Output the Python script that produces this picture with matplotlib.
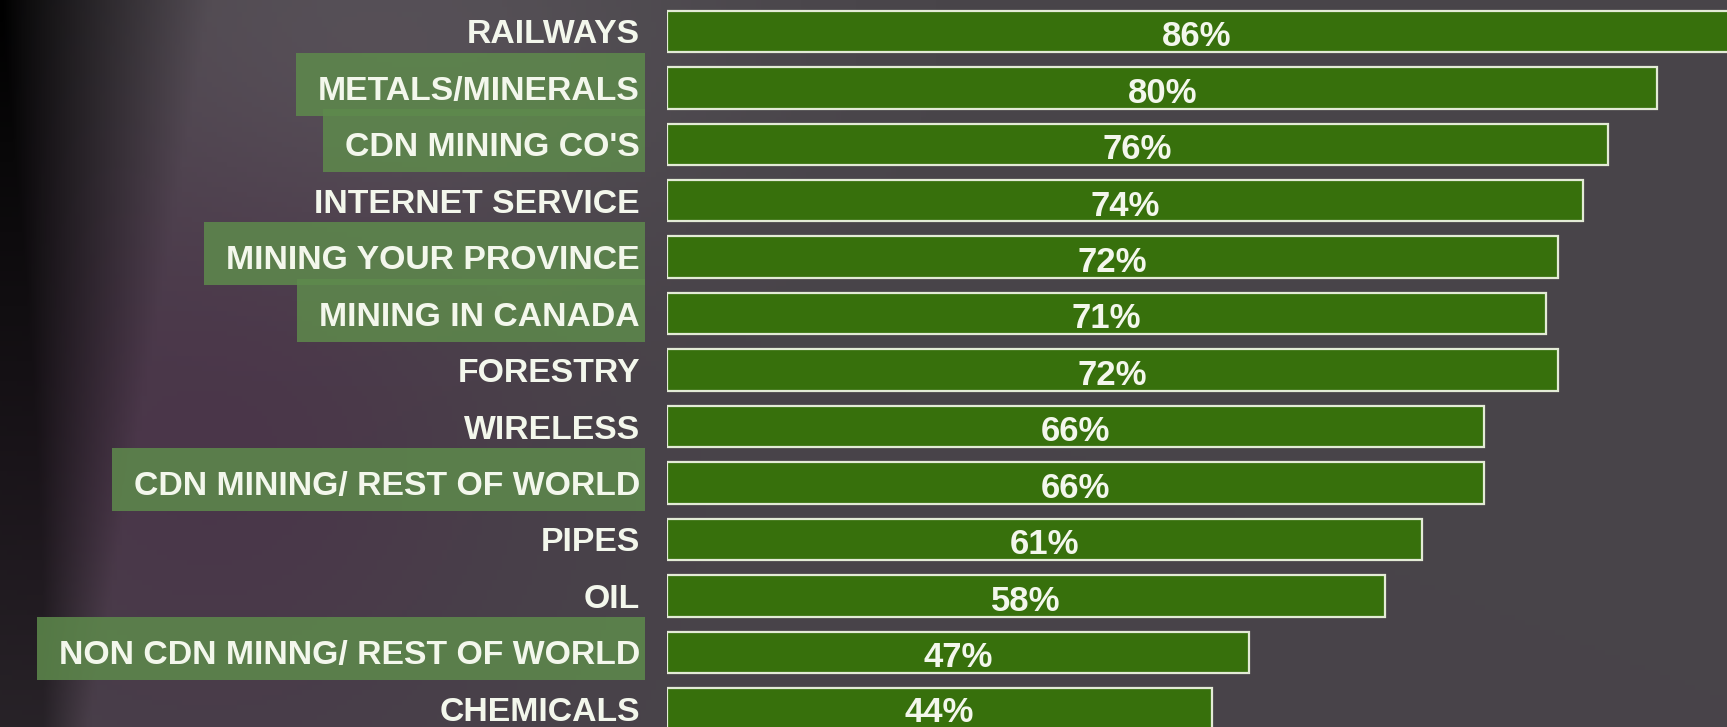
import numpy as np
import matplotlib
matplotlib.use("Agg")
import matplotlib.pyplot as plt
from matplotlib.patches import Rectangle
from matplotlib.transforms import IdentityTransform

# ---- data ----
categories = ["RAILWAYS", "METALS/MINERALS", "CDN MINING CO'S", "INTERNET SERVICE",
              "MINING YOUR PROVINCE", "MINING IN CANADA", "FORESTRY", "WIRELESS",
              "CDN MINING/ REST OF WORLD", "PIPES", "OIL",
              "NON CDN MINNG/ REST OF WORLD", "CHEMICALS"]
values = [86, 80, 76, 74, 72, 71, 72, 66, 66, 61, 58, 47, 44]
highlighted = [False, True, True, False, True, True, False, False, True,
               False, False, True, False]

W, H, DPI = 1727, 727, 100
fig = plt.figure(figsize=(W / DPI, H / DPI), dpi=DPI)

# ---- background (dark photographic tone) ----
bg_ax = fig.add_axes([0, 0, 1, 1], zorder=-5)
bg_ax.set_axis_off()
hh, ww = 146, 346
yy, xx = np.mgrid[0:hh, 0:ww]
xf = xx / (ww - 1)
yf = yy / (hh - 1)
base = np.zeros((hh, ww, 3))
base[..., 0] = 72
base[..., 1] = 68
base[..., 2] = 73
purple = np.exp(-(((xf - 0.12) / 0.18) ** 2 + ((yf - 0.6) / 0.45) ** 2))
base[..., 0] += 2 * purple
base[..., 1] -= 14 * purple
light = np.exp(-(((xf - 0.22) / 0.2) ** 2 + ((yf - 0.05) / 0.3) ** 2))
base += 14 * light[..., None]
vign = np.clip(xf / (0.03 + 0.07 * (1 - yf) + 0.02), 0, 1) ** 0.8
vign = np.maximum(vign, 0.55 * yf)
vign = np.clip(vign, 0, 1)
base *= vign[..., None]
bg_ax.imshow(np.clip(base, 0, 255).astype(np.uint8), aspect="auto",
             extent=[0, 1, 0, 1], interpolation="bilinear")
bg_ax.set_xlim(0, 1)
bg_ax.set_ylim(0, 1)

# ---- main chart ----
x_left_px = 667
ax = fig.add_axes([x_left_px / W, 0, 1 - x_left_px / W, 1], zorder=0)
ax.patch.set_visible(False)
y = np.arange(len(categories))
bars = ax.barh(y, values, height=0.735, color="#37700c",
               edgecolor="#e3ebd6", linewidth=1.6)
ax.set_xlim(0, (W - x_left_px) / 12.38)
ax.set_ylim(12.322, -0.556)
for s in ax.spines.values():
    s.set_visible(False)
ax.set_xticks([])
ax.set_yticks(y, labels=categories)
ax.tick_params(axis="y", length=0, pad=19.5)
for lab in ax.get_yticklabels():
    lab.set_fontfamily("Liberation Sans")
    lab.set_fontweight("bold")
    lab.set_fontsize(24.3)
    lab.set_color("#f3f7ec")

anns = ax.bar_label(bars, labels=[f"{v}%" for v in values], label_type="center",
                    color="#f3f7ec", fontsize=25, fontweight="bold",
                    fontfamily="Liberation Sans")
for a in anns:
    a.set_verticalalignment("center_baseline")
    a.xyann = (0, -1.3)

# highlight boxes behind mining-related labels
fig.canvas.draw()
renderer = fig.canvas.get_renderer()
for lab, hl in zip(ax.get_yticklabels(), highlighted):
    if not hl:
        continue
    bb = lab.get_window_extent(renderer)
    rect = Rectangle((bb.x0 - 22, bb.y0 - 9), bb.width + 27, bb.height + 32,
                     transform=IdentityTransform(), facecolor="#5e8a4c",
                     alpha=0.85, edgecolor="none", clip_on=False, zorder=0.5)
    ax.add_patch(rect)

fig.savefig("out.png", dpi=DPI)
